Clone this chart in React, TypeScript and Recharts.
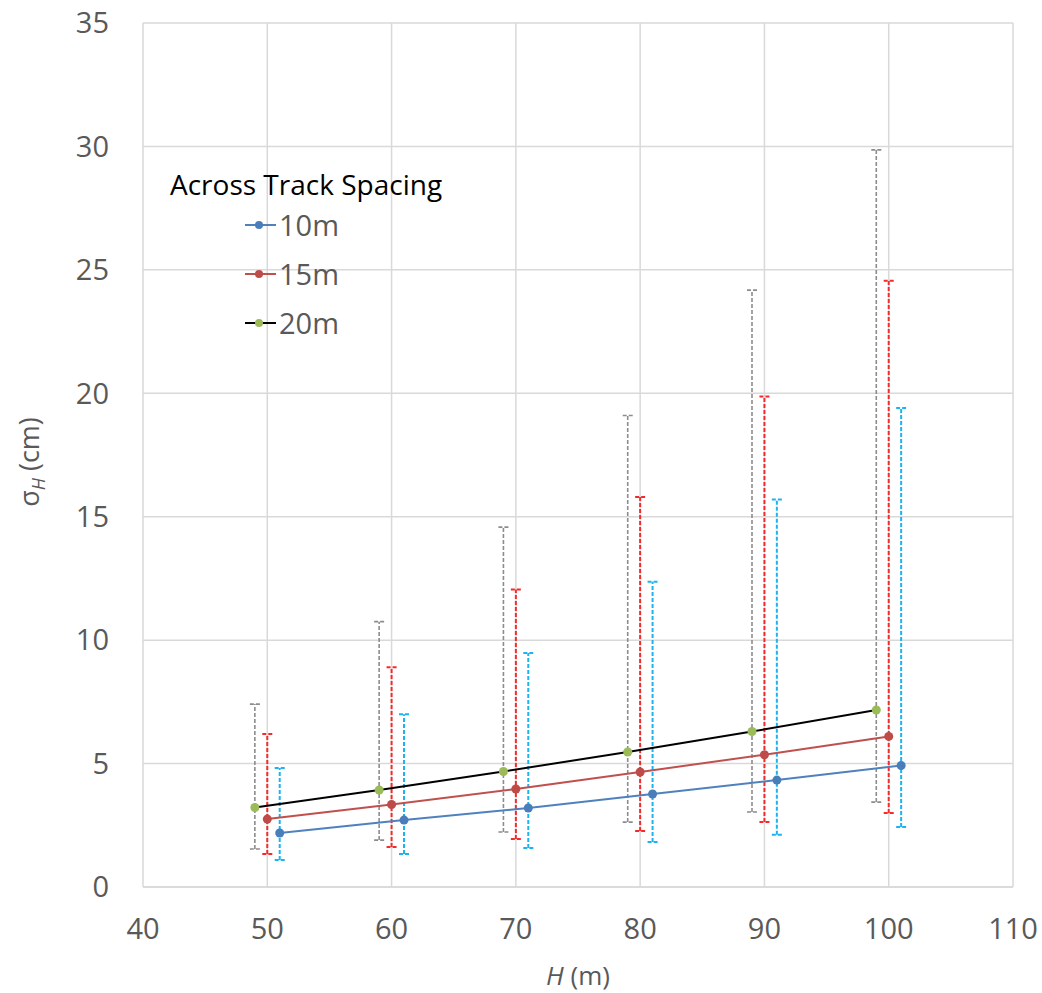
import { CartesianGrid, ComposedChart, ErrorBar, Legend, Scatter, XAxis, YAxis } from "recharts";

// H (m) positions, offset per series like the source spreadsheet
const h10 = [51, 61, 71, 81, 91, 101];
const h15 = [50, 60, 70, 80, 90, 100];
const h20 = [49, 59, 69, 79, 89, 99];

// sigma_H (cm) with lower / upper bounds of the dashed bars
const sigma10 = [2.19, 2.71, 3.2, 3.77, 4.33, 4.92];
const low10 = [1.09, 1.34, 1.58, 1.82, 2.12, 2.43];
const high10 = [4.82, 7.0, 9.48, 12.37, 15.7, 19.4];

const sigma15 = [2.75, 3.34, 3.97, 4.66, 5.36, 6.1];
const low15 = [1.34, 1.62, 1.94, 2.27, 2.63, 3.0];
const high15 = [6.2, 8.9, 12.05, 15.8, 19.87, 24.56];

const sigma20 = [3.22, 3.93, 4.68, 5.47, 6.3, 7.17];
const low20 = [1.54, 1.9, 2.23, 2.63, 3.04, 3.44];
const high20 = [7.41, 10.75, 14.58, 19.1, 24.18, 29.86];

const xTicks = [40, 50, 60, 70, 80, 90, 100, 110];
const yTicks = [0, 5, 10, 15, 20, 25, 30, 35];

const FONT = "'Open Sans', sans-serif";

function rows(xs: number[], ys: number[], lo: number[], hi: number[]) {
  return xs.map((x, i) => ({ x, y: ys[i], err: [ys[i] - lo[i], hi[i] - ys[i]] }));
}

const series = [
  { name: "10m", data: rows(h10, sigma10, low10, high10), line: "#4f81bd", dot: "#4a7ebb", bar: "#1cb4f0", barWidth: 2 },
  { name: "15m", data: rows(h15, sigma15, low15, high15), line: "#c0504d", dot: "#be4b48", bar: "#f52a2a", barWidth: 2 },
  { name: "20m", data: rows(h20, sigma20, low20, high20), line: "#000000", dot: "#9bbb59", bar: "#8c8c8c", barWidth: 1.6 },
];

function LegendBox() {
  return <div style={{ fontFamily: FONT }}>
    <div style={{ height: 31, lineHeight: "31px", fontSize: 28, color: "#000", whiteSpace: "nowrap" }}>Across Track Spacing</div>
    {series.map((s) => <div key={s.name} style={{ height: 49, display: "flex", alignItems: "center", marginLeft: 75 }}>
      <svg width={31} height={12}>
        <line x1={0} y1={6} x2={31} y2={6} stroke={s.line} strokeWidth={2} />
        <circle cx={14} cy={6} r={4} fill={s.dot} />
      </svg>
      <span style={{ fontSize: 29, color: "#595959", marginLeft: 3 }}>{s.name}</span>
    </div>)}
  </div>;
}

export default function App() {
  return <div style={{ position: "absolute", left: 0, top: 0, width: 1042, height: 993, background: "#fff" }}>
    <ComposedChart width={1042} height={993} margin={{ top: 23, right: 29, bottom: 0, left: 0 }}>
      <CartesianGrid stroke="#d9d9d9" strokeWidth={1.5} />
      <XAxis dataKey="x" type="number" domain={[40, 110]} ticks={xTicks} height={106} tickLine={false} tickSize={0} tickMargin={31}
        axisLine={{ stroke: "#d9d9d9", strokeWidth: 1.5 }} tick={{ fill: "#595959", fontSize: 29, fontFamily: FONT }}
        label={{ content: () => <text x={578} y={985} textAnchor="middle" fill="#595959" fontSize={26} fontFamily={FONT}><tspan fontStyle="italic">H</tspan> (m)</text> }} />
      <YAxis dataKey="y" type="number" domain={[0, 35]} ticks={yTicks} width={143} tickLine={false} tickSize={0} tickMargin={34} axisLine={false}
        tick={{ fill: "#595959", fontSize: 29, fontFamily: FONT }}
        label={{ content: () => <text x={39} y={462} transform="rotate(-90 39 462)" textAnchor="middle" fill="#595959" fontSize={27} fontFamily={FONT}>σ<tspan fontStyle="italic" fontSize={18} dy={6}>H</tspan><tspan dy={-6}> (cm)</tspan></text> }} />
      <Legend layout="vertical" verticalAlign="middle" align="center" wrapperStyle={{ left: 170, top: 169, width: 320 }} content={() => <LegendBox />} />
      {series.map((s) => <Scatter key={s.name} name={s.name} data={s.data} fill={s.dot} line={{ stroke: s.line, strokeWidth: 2 }} lineType="joint" shape="circle" isAnimationActive={false}>
        <ErrorBar dataKey="err" direction="y" width={5} stroke={s.bar} strokeWidth={s.barWidth} strokeDasharray="4 2" isAnimationActive={false} />
      </Scatter>)}
    </ComposedChart>
  </div>;
}
